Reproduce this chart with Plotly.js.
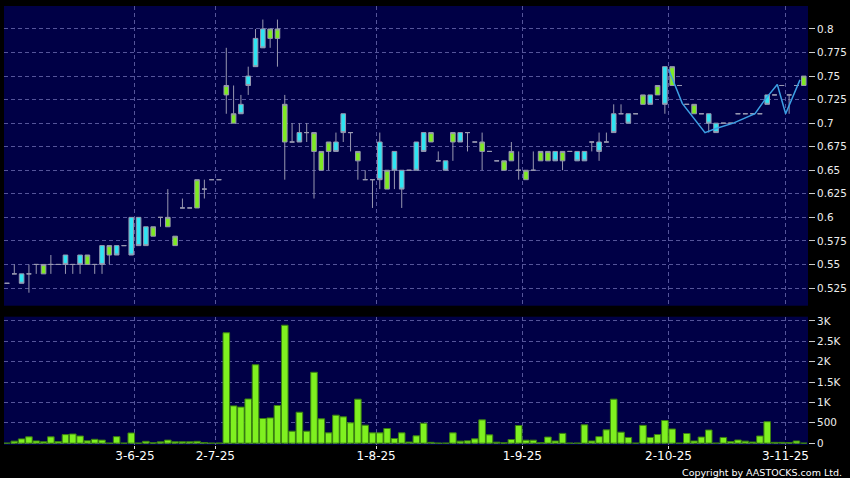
<!DOCTYPE html>
<html><head><meta charset="utf-8">
<script src="https://cdn.plot.ly/plotly-3.0.1.min.js"></script>
<style>html,body{margin:0;padding:0;background:#000;}#chart{width:850px;height:478px;}</style>
</head><body><div id="chart"></div>
<script>
const openP  = [0.53,0.54,0.54,0.54,0.55,0.54,0.55,0.55,0.56,0.55, 0.56,0.55,0.55,0.57,0.56,0.57,0.57,0.60,0.60,0.59, 0.58,0.60,0.59,0.57,0.61,0.61,0.61,0.63,0.64,0.64, 0.73,0.70,0.72,0.75,0.79,0.80,0.79,0.79,0.68,0.68, 0.69,0.69,0.67,0.65,0.67,0.68,0.71,0.69,0.66,0.64, 0.64,0.68,0.63,0.67,0.65,0.65,0.68,0.69,0.68,0.66, 0.66,0.68,0.69,0.69,0.68,0.67,0.67,0.66,0.65,0.66, 0.65,0.64,0.65,0.66,0.66,0.67,0.66,0.67,0.67,0.67, 0.68,0.68,0.68,0.71,0.71,0.71,0.71,0.72,0.73,0.73, 0.76,0.74,0.74,0.72,0.71,0.71,0.71,0.70,0.70,0.70, 0.71,0.71,0.71,0.71,0.73,0.73,0.74,0.73,0.74,0.74];
const highP  = [0.53,0.55,0.54,0.55,0.55,0.55,0.56,0.55,0.56,0.55, 0.56,0.56,0.55,0.57,0.57,0.57,0.57,0.60,0.60,0.59, 0.59,0.60,0.63,0.58,0.62,0.61,0.64,0.64,0.64,0.64, 0.78,0.74,0.73,0.76,0.80,0.81,0.80,0.81,0.73,0.70, 0.70,0.70,0.69,0.67,0.68,0.69,0.71,0.69,0.67,0.65, 0.64,0.69,0.65,0.67,0.65,0.65,0.68,0.69,0.69,0.67, 0.66,0.69,0.69,0.69,0.68,0.69,0.67,0.66,0.66,0.68, 0.67,0.65,0.67,0.67,0.67,0.67,0.67,0.67,0.67,0.67, 0.68,0.69,0.69,0.72,0.72,0.71,0.71,0.73,0.73,0.74, 0.76,0.76,0.74,0.72,0.72,0.71,0.71,0.70,0.70,0.70, 0.71,0.71,0.71,0.71,0.73,0.73,0.74,0.73,0.74,0.75];
const lowP   = [0.53,0.54,0.53,0.52,0.54,0.54,0.54,0.55,0.54,0.54, 0.54,0.55,0.54,0.54,0.55,0.56,0.57,0.56,0.57,0.57, 0.58,0.59,0.59,0.57,0.61,0.61,0.61,0.62,0.64,0.64, 0.71,0.70,0.71,0.73,0.76,0.78,0.78,0.76,0.64,0.68, 0.68,0.68,0.62,0.65,0.65,0.67,0.68,0.67,0.64,0.64, 0.61,0.63,0.63,0.63,0.61,0.65,0.65,0.67,0.68,0.66, 0.65,0.66,0.68,0.67,0.68,0.65,0.67,0.66,0.65,0.66, 0.64,0.64,0.65,0.66,0.66,0.66,0.65,0.67,0.66,0.66, 0.67,0.66,0.68,0.69,0.71,0.70,0.71,0.72,0.72,0.73, 0.71,0.74,0.74,0.72,0.71,0.71,0.69,0.69,0.70,0.70, 0.71,0.71,0.71,0.71,0.72,0.73,0.74,0.71,0.74,0.74];
const closeP = [0.53,0.54,0.53,0.54,0.55,0.55,0.55,0.55,0.55,0.55, 0.55,0.56,0.55,0.55,0.57,0.56,0.57,0.56,0.57,0.57, 0.59,0.60,0.60,0.58,0.61,0.61,0.64,0.63,0.64,0.64, 0.74,0.71,0.71,0.74,0.76,0.78,0.80,0.80,0.72,0.68, 0.68,0.69,0.69,0.67,0.68,0.67,0.69,0.69,0.67,0.64, 0.64,0.64,0.65,0.65,0.63,0.65,0.65,0.67,0.69,0.66, 0.65,0.69,0.68,0.69,0.68,0.68,0.67,0.66,0.66,0.67, 0.65,0.65,0.65,0.67,0.67,0.66,0.67,0.67,0.66,0.66, 0.68,0.67,0.68,0.69,0.71,0.70,0.71,0.73,0.72,0.74, 0.72,0.76,0.74,0.72,0.72,0.71,0.70,0.69,0.70,0.70, 0.71,0.71,0.71,0.71,0.72,0.73,0.74,0.73,0.74,0.75];
const volume = [0,50,105,155,55,35,155,38,210,225, 175,57,95,75,0,160,0,250,0,45, 12,32,75,34,34,34,45,15,0,0, 2710,915,885,1085,1925,605,620,924,2895,294, 760,294,1740,597,253,687,646,499,1080,441, 253,253,360,114,253,28,180,490,20,0, 0,253,50,57,106,572,204,25,8,90, 433,74,74,10,150,54,240,0,0,450, 54,160,327,1080,270,140,0,437,140,212, 556,348,0,237,54,150,323,0,140,41, 78,50,29,176,527,20,20,16,54,0];
const lineX = [90.52,92.38,95.49,96.89,99.36,102.33,103.69,105.38,106.52,108.48];
const lineY = [0.757,0.721,0.690,0.694,0.700,0.710,0.725,0.741,0.710,0.746];
const dateTickPos = [17.5,28.5,50.5,70.5,90.5,106.5];
const dateTickText = ['3-6-25','2-7-25','1-8-25','1-9-25','2-10-25','3-11-25'];
const priceTickVals = [0.525,0.55,0.575,0.6,0.625,0.65,0.675,0.7,0.725,0.75,0.775,0.8];
const priceTickText = ['0.525','0.55','0.575','0.6','0.625','0.65','0.675','0.7','0.725','0.75','0.775','0.8'];
const volTickVals = [0,500,1000,1500,2000,2500,3000];
const volTickText = ['0','500','1K','1.5K','2K','2.5K','3K'];

const idx = openP.map((_, i) => i);
const GRID = '#55559a';
const EDGE = '#9898b0';

const traces = [
  {type:'candlestick', x:idx, open:openP, high:highP, low:lowP, close:closeP,
   xaxis:'x', yaxis:'y', whiskerwidth:0, hoverinfo:'none',
   increasing:{fillcolor:'#7eea22', line:{color:EDGE, width:1}},
   decreasing:{fillcolor:'#2ee4f2', line:{color:EDGE, width:1}}},
  {type:'scatter', mode:'lines', x:lineX, y:lineY, xaxis:'x', yaxis:'y',
   line:{color:'#3c9fe4', width:1.5}, hoverinfo:'none'},
  {type:'bar', x:idx, y:volume, xaxis:'x', yaxis:'y2', hoverinfo:'none',
   marker:{color:'#7ff020', line:{color:'#3a8010', width:1}}}
];

const tickFontY = {family:'DejaVu Sans', size:10.4, color:'#eeeeee'};
const layout = {
  width:850, height:478,
  margin:{l:4, r:42, t:6, b:33},
  paper_bgcolor:'#000000', plot_bgcolor:'#000046',
  showlegend:false, bargap:0.1, boxgap:0.1,
  xaxis:{range:[-0.41,109.58], anchor:'y2', tickmode:'array', tickvals:dateTickPos, ticktext:dateTickText,
    showgrid:true, gridcolor:GRID, gridwidth:1, griddash:'4px,3px', zeroline:false, showline:false,
    ticks:'outside', ticklen:3, tickcolor:'#dddddd', ticklabelstandoff:-3,
    tickfont:{family:'DejaVu Sans', size:12, color:'#ffffff'},
    rangeslider:{visible:false}, fixedrange:true},
  yaxis:{domain:[0.3173,1], range:[0.5062,0.8244], side:'right', anchor:'x', tickmode:'array',
    tickvals:priceTickVals, ticktext:priceTickText, showgrid:true, gridcolor:GRID, gridwidth:1, griddash:'4px,3px',
    zeroline:false, showline:false, ticks:'outside', ticklen:6, tickcolor:'#cccccc', tickfont:tickFontY},
  yaxis2:{domain:[0,0.2923], range:[-45,3105], side:'right', anchor:'x', tickmode:'array',
    tickvals:volTickVals, ticktext:volTickText, showgrid:true, gridcolor:GRID, gridwidth:1, griddash:'4px,3px',
    zeroline:false, showline:false, ticks:'outside', ticklen:6, tickcolor:'#cccccc', tickfont:tickFontY},
  annotations:[{text:'Copyright by AASTOCKS.com Ltd.', xref:'paper', yref:'paper', x:1.0448, y:-0.062,
    xanchor:'right', yanchor:'middle', showarrow:false, font:{family:'DejaVu Sans', size:9.5, color:'#ffffff'}}]
};
Plotly.newPlot('chart', traces, layout, {staticPlot:true, displayModeBar:false});
</script>
</body></html>
